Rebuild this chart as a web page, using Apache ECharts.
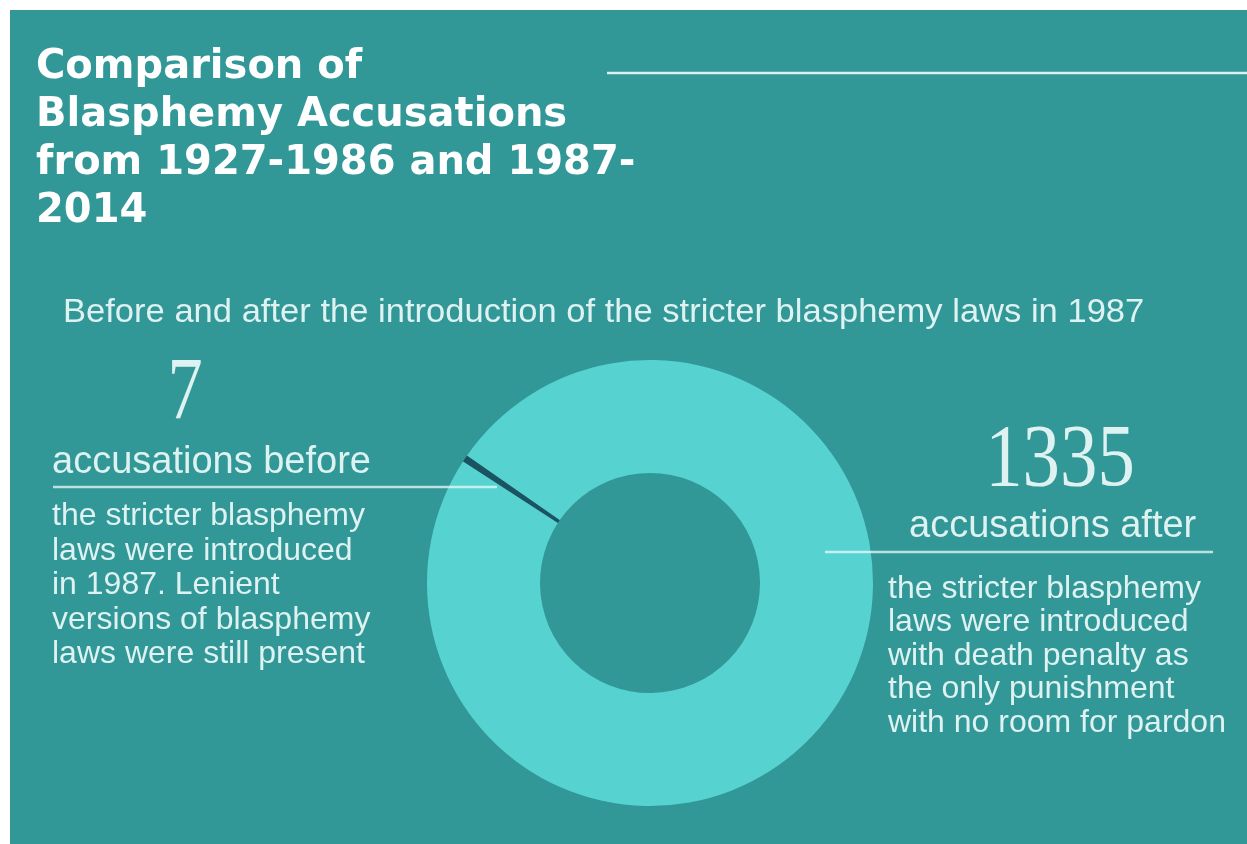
<!DOCTYPE html>
<html>
<head>
<meta charset="utf-8">
<script src="https://cdn.jsdelivr.net/npm/echarts@6/dist/echarts.min.js"></script>
<style>
html,body{margin:0;padding:0;background:#ffffff;}
#chart{width:1247px;height:844px;}
</style>
</head>
<body>
<div id="chart"></div>
<script>
// ---- data ----
const categories = ['accusations before', 'accusations after'];
const values = [7, 1335];
const sliceColors = ['#1b5363', '#56d3d1'];
const titleLines = ['Comparison of', 'Blasphemy Accusations', 'from 1927-1986 and 1987-', '2014'];
const subtitle = 'Before and after the introduction of the stricter blasphemy laws in 1987';
const beforeNote = ['the stricter blasphemy', 'laws were introduced', 'in 1987. Lenient', 'versions of blasphemy', 'laws were still present'];
const afterNote = ['the stricter blasphemy', 'laws were introduced', 'with death penalty as', 'the only punishment', 'with no room for pardon'];

const BG = '#329797';
const TXT = 'rgba(235,250,249,0.92)';
const thin = 'Liberation Sans, Lato, sans-serif';
const serif = 'Liberation Serif, serif';

function txt(x, y, text, font, opts) {
  opts = opts || {};
  const align = opts.align || 'left';
  const va = opts.va || 'middle';
  return {
    type: 'text', x: x, y: y, z: 10, silent: true,
    scaleX: opts.scaleX || 1,
    style: {
      text: text, font: font, fill: opts.fill || TXT,
      align: align, verticalAlign: va,
      textAlign: align, textVerticalAlign: va,
      lineHeight: opts.lineHeight
    }
  };
}
function hline(x1, x2, y, color, w) {
  return { type: 'line', z: 20, silent: true,
    shape: { x1: x1, y1: y, x2: x2, y2: y },
    style: { stroke: color, lineWidth: w } };
}

const chart = echarts.init(document.getElementById('chart'));

const graphics = [
  { type: 'rect', z: -10, silent: true, shape: { x: 10, y: 10, width: 1237, height: 834 }, style: { fill: BG } },
  txt(36, 44, titleLines.join('\n'), 'bold 40px DejaVu Sans', { fill: '#ffffff', va: 'top', lineHeight: 48 }),
  hline(607, 1247, 73, 'rgba(235,250,250,0.9)', 2.5),
  txt(63, 313, subtitle, '300 33px ' + thin, { scaleX: 1.047 }),
  // before
  { type: 'text', x: 185, y: 395, z: 10, silent: true, scaleX: 0.8,
    style: { text: String(values[0]), font: '88px ' + serif, fill: TXT, align: 'center', verticalAlign: 'middle', textAlign: 'center', textVerticalAlign: 'middle' } },
  txt(52, 463, categories[0], '300 38px ' + thin),
  hline(53, 497, 487, 'rgba(235,250,250,0.75)', 2.5),
  txt(52, 499, beforeNote.join('\n'), '300 32px ' + thin, { va: 'top', lineHeight: 34.5 }),
  // after
  { type: 'text', x: 1060, y: 462, z: 10, silent: true, scaleX: 0.85,
    style: { text: String(values[1]), font: '88px ' + serif, fill: TXT, align: 'center', verticalAlign: 'middle', textAlign: 'center', textVerticalAlign: 'middle' } },
  txt(909, 527, categories[1], '300 38px ' + thin),
  hline(825, 1213, 552, 'rgba(235,250,250,0.75)', 2.5),
  txt(888, 572, afterNote.join('\n'), '300 32px ' + thin, { va: 'top', lineHeight: 33.5 })
];

chart.setOption({
  backgroundColor: '#ffffff',
  animation: false,
  graphic: { elements: graphics },
  series: [{
    type: 'pie',
    center: [650, 583],
    radius: [110, 223],
    startAngle: 147,
    clockwise: true,
    silent: true,
    z: 2,
    label: { show: false },
    labelLine: { show: false },
    itemStyle: { borderWidth: 0 },
    emphasis: { disabled: true },
    data: categories.map((c, i) => ({ name: c, value: values[i], itemStyle: { color: sliceColors[i] } }))
  }]
});
</script>
</body>
</html>
